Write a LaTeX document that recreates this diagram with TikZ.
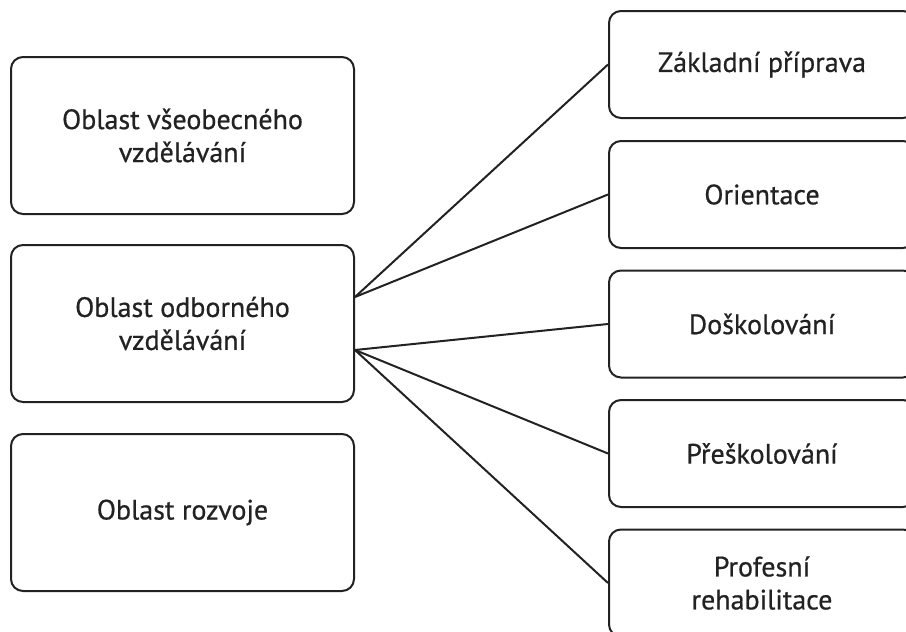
\documentclass[tikz,border=0pt]{standalone}
\usepackage{fontspec}
\setmainfont{PT Sans}[FakeBold=0.6]
\usetikzlibrary{positioning}
\definecolor{ink}{HTML}{222222}
\tikzset{
  box/.style={draw=ink, line width=2pt, rounded corners=12pt, align=center,
    inner sep=0pt, text=ink,
    font=\fontsize{28}{33}\selectfont},
  leftbox/.style={box, minimum width=343pt, minimum height=157pt},
  rightbox/.style={box, minimum width=306pt, minimum height=107pt},
  link/.style={draw=ink, line width=2pt}
}
\begin{document}
\begin{tikzpicture}[x=1pt,y=-1pt]
  \useasboundingbox (0,0) rectangle (906,632);
  \clip (0,0) rectangle (906,632);
  % left column
  \node[leftbox] (vseob) at (182.5,135.5) {Oblast všeobecného\\vzdělávání};
  \node[leftbox] (odb)   at (182.5,323.5) {Oblast odborného\\vzdělávání};
  \node[leftbox] (rozv)  at (182.5,512.5) {Oblast rozvoje};
  % right column
  \node[rightbox] (zakl) at (762,64.5)  {Základní příprava};
  \node[rightbox] (orie) at (762,194.5) {Orientace};
  \node[rightbox] (dosk) at (762,324)   {Doškolování};
  \node[rightbox] (presk) at (762,453.5) {Přeškolování};
  \node[rightbox] (prof) at (762,583)   {Profesní\\rehabilitace};
  % connectors
  \coordinate (up) at ([yshift=26.5pt]odb.east);
  \coordinate (dn) at ([yshift=-26.5pt]odb.east);
  \draw[link] (up) -- (zakl.west);
  \draw[link] (up) -- (orie.west);
  \draw[link] (dn) -- (dosk.west);
  \draw[link] (dn) -- (presk.west);
  \draw[link] (dn) -- (prof.west);
\end{tikzpicture}
\end{document}
